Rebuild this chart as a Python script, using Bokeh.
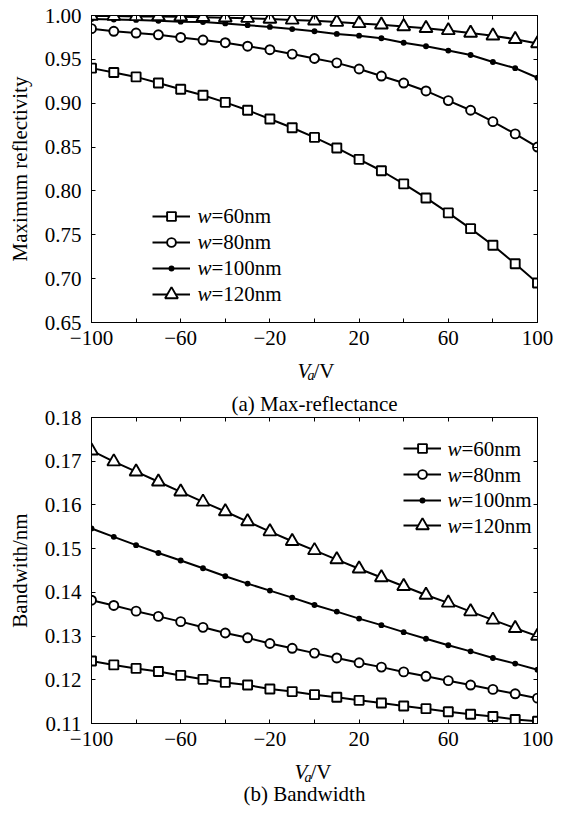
from bokeh.plotting import figure
from bokeh.models import (Range1d, FixedTicker, PrintfTickFormatter, LinearAxis,
                          Label, Legend, LegendItem, Title)
from bokeh.layouts import column
from bokeh.embed import file_html
from bokeh.resources import INLINE

FONT = "Liberation Serif"

# ---------------- data ----------------
voltage = [-100, -90, -80, -70, -60, -50, -40, -30, -20, -10, 0,
           10, 20, 30, 40, 50, 60, 70, 80, 90, 100]

width_labels = ["60nm", "80nm", "100nm", "120nm"]

refl_60 = [0.940, 0.935, 0.930, 0.923, 0.916, 0.909, 0.901, 0.892, 0.882, 0.872, 0.861,
           0.849, 0.836, 0.823, 0.808, 0.792, 0.775, 0.757, 0.738, 0.717, 0.695]
refl_80 = [0.985, 0.982, 0.980, 0.978, 0.975, 0.972, 0.969, 0.965, 0.961, 0.956, 0.951,
           0.946, 0.939, 0.931, 0.923, 0.914, 0.903, 0.892, 0.879, 0.865, 0.850]
refl_100 = [0.996, 0.9955, 0.995, 0.994, 0.993, 0.9925, 0.991, 0.989, 0.987, 0.9845, 0.982,
            0.979, 0.977, 0.974, 0.969, 0.965, 0.960, 0.955, 0.947, 0.940, 0.929]
refl_120 = [0.9995, 0.9993, 0.999, 0.9988, 0.9985, 0.998, 0.9975, 0.997, 0.996, 0.995, 0.994,
            0.9925, 0.991, 0.9895, 0.9875, 0.9855, 0.983, 0.980, 0.977, 0.973, 0.968]

bw_60 = [0.1243, 0.1234, 0.1226, 0.1219, 0.1210, 0.1201, 0.1194, 0.1188, 0.1179, 0.1173, 0.1166,
         0.1160, 0.1153, 0.1147, 0.1140, 0.1134, 0.1127, 0.1121, 0.1116, 0.1109, 0.1105]
bw_80 = [0.1382, 0.1370, 0.1357, 0.1345, 0.1333, 0.1320, 0.1307, 0.1296, 0.1283, 0.1272, 0.1261,
         0.1250, 0.1239, 0.1229, 0.1218, 0.1208, 0.1198, 0.1188, 0.1178, 0.1168, 0.1158]
bw_100 = [0.1546, 0.1527, 0.1508, 0.1490, 0.1473, 0.1455, 0.1437, 0.1420, 0.1404, 0.1388, 0.1371,
          0.1356, 0.1340, 0.1325, 0.1309, 0.1294, 0.1279, 0.1265, 0.1250, 0.1237, 0.1223]
bw_120 = [0.1724, 0.1699, 0.1676, 0.1653, 0.1630, 0.1607, 0.1585, 0.1562, 0.1539, 0.1517, 0.1496,
          0.1475, 0.1454, 0.1434, 0.1414, 0.1394, 0.1376, 0.1356, 0.1337, 0.1318, 0.1300]

x_ticks = [-100, -80, -60, -40, -20, 0, 20, 40, 60, 80, 100]
x_tick_labels = ["\u2212100", "", "\u221260", "", "\u221220", "", "20", "", "60", "", "100"]
y_ticks_a = [0.65, 0.70, 0.75, 0.80, 0.85, 0.90, 0.95, 1.00]
y_ticks_b = [0.11, 0.12, 0.13, 0.14, 0.15, 0.16, 0.17, 0.18]

# marker styles per series: (marker, size, fill)
STYLES = [("square", 9, "white"), ("circle", 9, "white"),
          ("circle", 4, "black"), ("triangle", 13, "white")]


def style_axis(ax, ticker, show_labels=True):
    ax.ticker = ticker
    ax.axis_line_color = "black"
    ax.axis_line_width = 1
    ax.major_tick_line_color = "black"
    ax.major_tick_line_width = 1
    ax.major_tick_in = 4
    ax.major_tick_out = 0
    ax.minor_tick_line_color = None
    ax.major_label_text_font = FONT
    if show_labels:
        ax.major_label_text_color = "black"
        ax.major_label_text_font_size = "21px"
    else:
        ax.major_label_overrides = {t: "" for t in ticker.ticks}
        ax.major_label_text_color = None
        ax.major_label_text_font_size = "1px"
        ax.major_label_standoff = 0


def make_panel(series, y_lo, y_hi, y_ticks, y_title, height, b_top, b_bottom,
               leg_left, leg_rows, text_left, top_caption=None):
    p = figure(width=570, height=height, x_range=Range1d(voltage[0], voltage[-1]),
               y_range=Range1d(y_lo, y_hi), output_backend="svg", toolbar_location=None,
               min_border_left=91, min_border_right=33, min_border_top=b_top,
               min_border_bottom=b_bottom, title=None)
    p.grid.visible = False
    p.outline_line_color = "black"
    p.outline_line_width = 1
    p.background_fill_color = "white"
    p.border_fill_color = "white"

    xt = FixedTicker(ticks=x_ticks, minor_ticks=[])
    yt = FixedTicker(ticks=y_ticks, minor_ticks=[])

    xa = p.xaxis[0]
    style_axis(xa, xt)
    xa.major_label_overrides = dict(zip(x_ticks, x_tick_labels))
    xa.major_label_standoff = 8

    ya = p.yaxis[0]
    style_axis(ya, yt)
    ya.formatter = PrintfTickFormatter(format="%.2f")
    ya.major_label_standoff = 10
    ya.axis_label = y_title
    ya.axis_label_text_font = FONT
    ya.axis_label_text_font_size = "21px"
    ya.axis_label_text_font_style = "normal"
    ya.axis_label_text_color = "black"
    ya.axis_label_standoff = 10

    top = LinearAxis()
    style_axis(top, xt, show_labels=False)
    p.add_layout(top, "above")
    right = LinearAxis()
    style_axis(right, yt, show_labels=False)
    p.add_layout(right, "right")

    if top_caption is not None:
        p.add_layout(Title(text=top_caption, align="center", offset=-2, standoff=4,
                           text_font=FONT, text_font_size="21px", text_font_style="normal",
                           text_color="black"), "above")

    frame_h = height - b_top - b_bottom
    x0 = p.x_range.start

    for i, vals in enumerate(series):
        marker, size, fill = STYLES[i]
        r_line = p.line(voltage, vals, line_color="black", line_width=2)
        r_mark = p.scatter(voltage, vals, marker=marker, size=size, fill_color=fill,
                           line_color="black", line_width=1.9)
        gh = size / 0.4
        row_c = leg_rows[i]
        leg = Legend(items=[LegendItem(label="", renderers=[r_line, r_mark])],
                     location=(leg_left, frame_h - row_c - gh / 2),
                     glyph_width=38, glyph_height=int(round(gh)), label_height=int(round(gh)),
                     label_width=0, label_standoff=0, padding=0, margin=0, spacing=0,
                     border_line_color=None, background_fill_alpha=0,
                     label_text_font_size="1px", label_text_color=None)
        p.add_layout(leg)
        p.add_layout(Label(x=x0, y=y_hi, x_offset=text_left, y_offset=-row_c,
                           text="w", text_font=FONT, text_font_style="italic",
                           text_font_size="21px", text_baseline="middle", text_color="black"))
        p.add_layout(Label(x=x0, y=y_hi, x_offset=text_left + 14, y_offset=-row_c,
                           text="=" + width_labels[i], text_font=FONT,
                           text_font_size="21px", text_baseline="middle", text_color="black"))
    return p


def make_text_band(height, label_mid, sub_shift, caption=None, caption_mid=None, cap_shift=0):
    t = figure(width=570, height=height, x_range=Range1d(voltage[0], voltage[-1]),
               y_range=Range1d(height, 0), output_backend="svg", toolbar_location=None,
               x_axis_type=None, y_axis_type=None, title=None,
               min_border_left=91, min_border_right=33, min_border_top=0, min_border_bottom=0)
    t.grid.visible = False
    t.outline_line_color = None
    t.background_fill_color = "white"
    t.border_fill_color = "white"
    xc = (t.x_range.start + t.x_range.end) / 2
    # x-axis title  V_a / V
    t.add_layout(Label(x=xc, y=label_mid, x_offset=-17 + sub_shift, text="V",
                       text_font=FONT, text_font_style="italic", text_font_size="21px",
                       text_baseline="middle", text_color="black"))
    t.add_layout(Label(x=xc, y=label_mid + 5, x_offset=-7 + sub_shift, text="a",
                       text_font=FONT, text_font_style="italic", text_font_size="14px",
                       text_baseline="middle", text_color="black"))
    t.add_layout(Label(x=xc, y=label_mid, x_offset=-1 + sub_shift, text="/V",
                       text_font=FONT, text_font_size="21px",
                       text_baseline="middle", text_color="black"))
    if caption is not None:
        t.add_layout(Label(x=xc, y=caption_mid, x_offset=cap_shift, text=caption,
                           text_font=FONT, text_font_size="21px", text_align="center",
                           text_baseline="middle", text_color="black"))
    return t


p1 = make_panel([refl_60, refl_80, refl_100, refl_120], 0.65, 1.00, y_ticks_a,
                "Maximum reflectivity", 355, 15, 33,
                61, [200.7, 226.7, 252.7, 278.7], 106)
t1 = make_text_band(31, 15, 0)
p2 = make_panel([bw_60, bw_80, bw_100, bw_120], 0.11, 0.18, y_ticks_b,
                "Bandwith/nm", 369, 31, 32,
                312, [31, 57, 82.5, 108], 356, top_caption="(a) Max-reflectance")
t2 = make_text_band(59, 16.7, -3, "(b) Bandwidth", 38.3, -10)

layout = column(p1, t1, p2, t2, spacing=0)
open("out.html", "w").write(file_html(layout, INLINE))
